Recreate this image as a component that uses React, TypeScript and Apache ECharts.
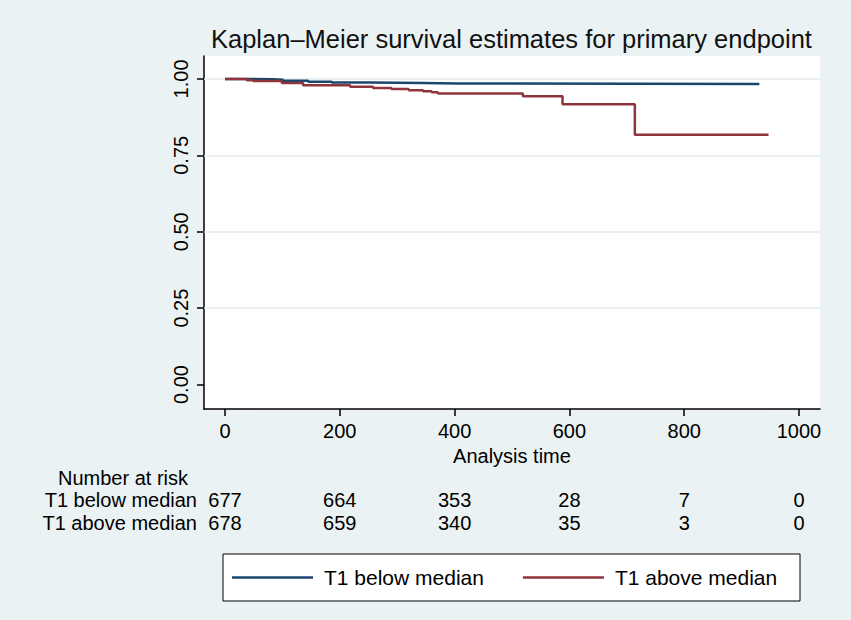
import React, { useEffect, useRef } from "react";
import * as echarts from "echarts";

// Kaplan–Meier step data (time, survival)
const belowTime = [0, 38, 84, 101, 145, 186, 253, 345, 406, 931];
const belowSurv = [1.0, 0.999, 0.997, 0.994, 0.991, 0.988, 0.987, 0.985, 0.983, 0.983];
const aboveTime = [0, 38, 49, 99, 136, 218, 258, 290, 320, 345, 360, 371, 519, 588, 714, 947];
const aboveSurv = [1.0, 0.996, 0.993, 0.987, 0.979, 0.974, 0.97, 0.967, 0.963, 0.96, 0.956, 0.952, 0.943, 0.917, 0.817, 0.817];

const seriesNames = ["T1 below median", "T1 above median"];
const xTicks = [0, 200, 400, 600, 800, 1000];
const xTickLabels = ["0", "200", "400", "600", "800", "1000"];
const yTicks = [0, 0.25, 0.5, 0.75, 1];
const yTickLabels = ["0.00", "0.25", "0.50", "0.75", "1.00"];
const gridValues = [0.25, 0.5, 0.75, 1];

const riskTitle = "Number at risk";
const riskTimes = [0, 200, 400, 600, 800, 1000];
const riskBelow = [677, 664, 353, 28, 7, 0];
const riskAbove = [678, 659, 340, 35, 3, 0];

const titleText = "Kaplan–Meier survival estimates for primary endpoint";
const xName = "Analysis time";

const colors = ["#1A476F", "#90353B"];
const FONT = "'Liberation Sans', Arial, Helvetica, sans-serif";

const pick = (ticks: number[], labels: string[], v: number) => {
  const i = ticks.findIndex((t) => Math.abs(t - v) < 1e-6);
  return i >= 0 ? labels[i] : "";
};

export default function App() {
  const ref = useRef<HTMLDivElement>(null);
  useEffect(() => {
    const chart = echarts.init(ref.current!, null, { renderer: "svg" });
    const tickLine = { color: "#000", width: 1.5 };
    const option: any = {
      animation: false,
      backgroundColor: "#EAF2F3",
      textStyle: { fontFamily: FONT },
      title: {
        text: titleText,
        left: 211,
        top: 26,
        padding: 0,
        textStyle: { fontSize: 25.5, fontWeight: "normal", color: "#111", fontFamily: FONT },
      },
      grid: {
        left: 204,
        right: 31,
        top: 56,
        bottom: 211,
        show: true,
        backgroundColor: "#fff",
        borderWidth: 0,
      },
      xAxis: {
        type: "value",
        min: -36.6,
        max: 1036.6,
        name: xName,
        nameLocation: "middle",
        nameGap: 34,
        nameTextStyle: { fontSize: 20, color: "#000", fontFamily: FONT },
        axisLine: { show: true, onZero: false, lineStyle: tickLine },
        axisTick: { show: true, length: 7, customValues: xTicks, lineStyle: tickLine },
        axisLabel: {
          customValues: xTicks,
          fontSize: 20,
          color: "#000",
          margin: 12,
          fontFamily: FONT,
          formatter: (v: number) => pick(xTicks, xTickLabels, v),
        },
        splitLine: { show: false },
      },
      yAxis: {
        type: "value",
        min: -0.08,
        max: 1.075,
        axisLine: { show: true, onZero: false, lineStyle: tickLine },
        axisTick: { show: true, length: 7, customValues: yTicks, lineStyle: tickLine },
        axisLabel: {
          customValues: yTicks,
          rotate: 90,
          fontSize: 20,
          color: "#000",
          margin: 13,
          fontFamily: FONT,
          formatter: (v: number) => pick(yTicks, yTickLabels, v),
        },
        splitLine: { show: false },
      },
      legend: {
        data: seriesNames.map((n) => ({ name: n, icon: "rect" })),
        left: 232,
        top: 567,
        itemWidth: 81,
        itemHeight: 2.5,
        itemGap: 39,
        padding: 0,
        selectedMode: false,
        textStyle: { fontSize: 21, color: "#000", fontFamily: FONT, padding: [0, 0, 0, 6] },
      },
      series: [
        {
          name: seriesNames[0],
          type: "line",
          step: "end",
          data: belowTime.map((t, i) => [t, belowSurv[i]]),
          symbol: "none",
          z: 3,
          lineStyle: { color: colors[0], width: 2.5 },
          itemStyle: { color: colors[0] },
          emphasis: { disabled: true },
          markLine: {
            silent: true,
            symbol: "none",
            z: 1,
            label: { show: false },
            lineStyle: { color: "#E3EBED", width: 1.5, type: "solid" },
            data: gridValues.map((v) => ({ yAxis: v })),
          },
        },
        {
          name: seriesNames[1],
          type: "line",
          step: "end",
          data: aboveTime.map((t, i) => [t, aboveSurv[i]]),
          symbol: "none",
          z: 4,
          lineStyle: { color: colors[1], width: 2.5 },
          itemStyle: { color: colors[1] },
          emphasis: { disabled: true },
        },
      ],
    };
    chart.setOption(option);

    const xs = riskTimes.map((t) => chart.convertToPixel({ xAxisIndex: 0 }, t) as number);
    const txt = (text: string, x: number, y: number, align: string, size = 20) => ({
      type: "text",
      x,
      y,
      silent: true,
      style: { text, fontSize: size, fontFamily: FONT, fill: "#000", align, verticalAlign: "middle" },
    });
    const graphic: any[] = [
      {
        type: "rect",
        z: 0,
        silent: true,
        shape: { x: 223, y: 554, width: 577, height: 47 },
        style: { fill: "#fff", stroke: "#000", lineWidth: 1 },
      },
      txt(riskTitle, 58, 478, "left"),
      txt(seriesNames[0], 197, 500, "right"),
      txt(seriesNames[1], 197, 523, "right"),
    ];
    xs.forEach((x, i) => {
      graphic.push(txt(String(riskBelow[i]), x, 500, "center"));
      graphic.push(txt(String(riskAbove[i]), x, 523, "center"));
    });
    chart.setOption({ graphic });

    return () => chart.dispose();
  }, []);
  return (
    <div
      ref={ref}
      style={{ position: "absolute", left: 0, top: 0, width: 851, height: 620 }}
    />
  );
}
